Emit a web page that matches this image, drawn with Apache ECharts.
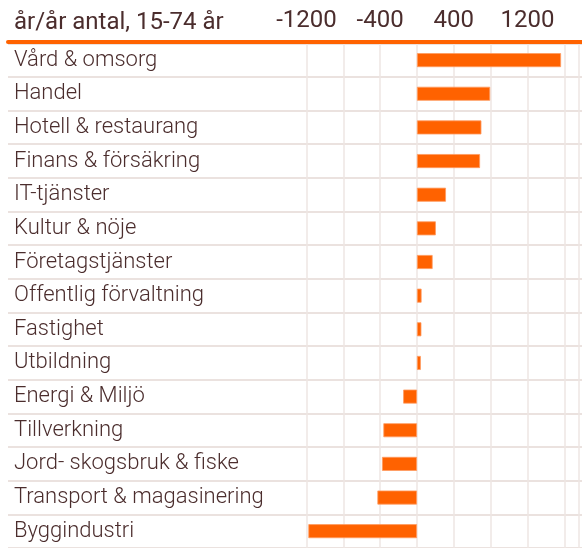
<!DOCTYPE html>
<html>
<head>
<meta charset="utf-8">
<script src="https://cdn.jsdelivr.net/npm/echarts@6/dist/echarts.min.js"></script>
<style>
  html, body { margin: 0; padding: 0; background: #ffffff; }
  #chart { width: 582px; height: 548px; }
</style>
</head>
<body>
<div id="chart"></div>
<script>
// Employment change by industry, year over year (number, ages 15-74)
var categories = [
  'Vård & omsorg',
  'Handel',
  'Hotell & restaurang',
  'Finans & försäkring',
  'IT-tjänster',
  'Kultur & nöje',
  'Företagstjänster',
  'Offentlig förvaltning',
  'Fastighet',
  'Utbildning',
  'Energi & Miljö',
  'Tillverkning',
  'Jord- skogsbruk & fiske',
  'Transport & magasinering',
  'Byggindustri'
];
var changes = [1565, 795, 700, 685, 315, 205, 170, 50, 48, 42, -150, -365, -380, -430, -1180];
var tickLabels = [-1200, -400, 400, 1200];
var axisTitle = 'år/år antal, 15-74 år';

var ORANGE = '#ff6200';
var TEXT = '#4b2d2d';
var ROW_TOP = 43.3;
var ROW_H = 33.93;

var chart = echarts.init(document.getElementById('chart'), null, { renderer: 'canvas' });

chart.setOption({
  animation: false,
  backgroundColor: '#ffffff',
  graphic: [{
    type: 'text',
    left: 14,
    top: 11,
    style: {
      text: axisTitle,
      fontFamily: 'Roboto',
      fontSize: 24,
      fill: TEXT
    }
  }],
  grid: [
    // full-width row band with category names
    { left: 8, right: 0, top: ROW_TOP, height: ROW_H * categories.length },
    // bar plotting area
    { left: 306.5, right: 0, top: ROW_TOP, height: ROW_H * categories.length }
  ],
  xAxis: [
    {
      gridIndex: 0,
      type: 'value',
      position: 'top',
      min: 0,
      max: 1,
      offset: 2,
      z: 10,
      axisLine: { show: true, lineStyle: { color: ORANGE, width: 4 } },
      axisTick: { show: false },
      axisLabel: { show: false },
      splitLine: { show: false }
    },
    {
      gridIndex: 1,
      type: 'value',
      position: 'top',
      min: -1200,
      max: 1760,
      interval: 400,
      axisLine: { show: false },
      axisTick: { show: false },
      splitLine: { show: true, lineStyle: { color: '#eee6e3', width: 1.5 } },
      axisLabel: {
        show: true,
        margin: 10,
        fontFamily: 'Roboto',
        fontSize: 24,
        color: TEXT,
        formatter: function (v) {
          return tickLabels.indexOf(v) >= 0 ? String(v) : '';
        }
      }
    }
  ],
  yAxis: [
    {
      gridIndex: 0,
      type: 'category',
      inverse: true,
      data: categories,
      axisLine: { show: false },
      axisTick: { show: false },
      splitLine: { show: true, lineStyle: { color: '#ebe2df', width: 2 } },
      axisLabel: {
        inside: true,
        margin: 6,
        fontFamily: 'Roboto',
        fontWeight: 300,
        fontSize: 22,
        color: TEXT,
        verticalAlign: 'middle',
        padding: [6, 0, 0, 0]
      }
    },
    {
      gridIndex: 1,
      type: 'category',
      inverse: true,
      data: categories,
      show: false
    }
  ],
  series: [{
    type: 'bar',
    xAxisIndex: 1,
    yAxisIndex: 1,
    data: changes,
    barWidth: 14,
    itemStyle: {
      color: ORANGE,
      borderColor: '#ff9a60',
      borderWidth: 0.8
    },
    z: 5
  }]
});
</script>
</body>
</html>
